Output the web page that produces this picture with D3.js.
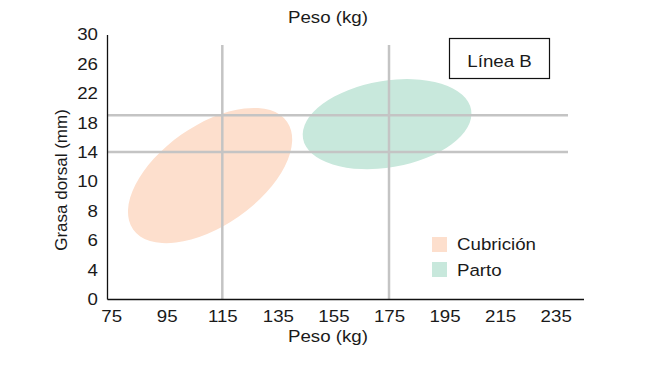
<!DOCTYPE html>
<html>
<head>
<meta charset="utf-8">
<script src="https://cdn.jsdelivr.net/npm/d3@7"></script>
<style>
  html, body { margin: 0; padding: 0; background: #fff; }
  svg { display: block; }
  text { font-family: "Liberation Sans", Arial, sans-serif; fill: #1a1a1a; }
</style>
</head>
<body>
<svg id="chart" width="650" height="366"></svg>
<script>
// ---- data ----
const xTicks = [75, 95, 115, 135, 155, 175, 195, 215, 235];
const yTicks = [0, 4, 6, 8, 10, 14, 18, 22, 26, 30];
const refWeights = [115, 175];      // vertical reference lines (kg)
const refFat = [19, 14];            // horizontal reference lines (mm)
const seriesNames = ["Cubrición", "Parto"];
// ellipse: centre (kg, mm), semi-axes (kg units), tilt (deg)
const centresKg = [110.6, 174.3];
const centresMm = [10.8, 17.8];
const semiMajorKg = [33.8, 30.7];
const semiMinorKg = [18.0, 15.6];
const tiltDeg = [35, 9.7];
const colors = ["#fddfcd", "#c8e8dc"];

const svg = d3.select("#chart");
const FS = 17, SX = 1.1;

const x = d3.scaleLinear().domain([73.5, 245]).range([107, 583.5]);
const yTop = 34.5, yBot = 299;
const y = d3.scaleLinear().domain(yTicks)
  .range(yTicks.map((d, i) => yBot - i * (yBot - yTop) / (yTicks.length - 1)));

function stretchText(sel, px, py, anchor) {
  sel.attr("transform", `translate(${px},${py}) scale(${SX},1)`)
     .attr("x", 0).attr("y", 0)
     .attr("text-anchor", anchor || "start")
     .style("font-size", FS + "px");
}

// ellipses
const kpx = x(1) - x(0);
const ell = seriesNames.map((n, i) => ({
  name: n, cx: centresKg[i], cy: centresMm[i], a: semiMajorKg[i], b: semiMinorKg[i], t: tiltDeg[i], c: colors[i]
}));
svg.append("g").selectAll("ellipse").data(ell).join("ellipse")
  .attr("transform", d => `translate(${x(d.cx)},${y(d.cy)}) rotate(${-d.t})`)
  .attr("rx", d => d.a * kpx)
  .attr("ry", d => d.b * kpx)
  .attr("fill", d => d.c);

// reference lines
const grid = svg.append("g").attr("stroke", "#c4c4c4").attr("stroke-width", 2.5);
grid.selectAll("line.v").data(refWeights).join("line").attr("class", "v")
  .attr("x1", d => x(d)).attr("x2", d => x(d))
  .attr("y1", 45).attr("y2", yBot);
grid.selectAll("line.h").data(refFat).join("line").attr("class", "h")
  .attr("x1", x.range()[0]).attr("x2", 568)
  .attr("y1", d => y(d)).attr("y2", d => y(d));

// axes
const gx = svg.append("g").attr("transform", `translate(0,${yBot})`)
  .call(d3.axisBottom(x).tickValues(xTicks).tickSize(0).tickSizeOuter(0).tickPadding(11));
const gy = svg.append("g").attr("transform", `translate(${x.range()[0]},0)`)
  .call(d3.axisLeft(y).tickValues(yTicks).tickSize(0).tickSizeOuter(0).tickPadding(9));
[gx, gy].forEach(g => {
  g.select(".domain").attr("stroke", "#111").attr("stroke-width", 1.3);
  g.selectAll(".tick text").style("font-size", FS + "px")
    .style("font-family", "Liberation Sans, Arial, sans-serif").attr("fill", "#1a1a1a");
});
gx.selectAll(".tick text").attr("transform", `scale(${SX},1)`);
gy.selectAll(".tick text").attr("x", -9 / SX).attr("transform", `scale(${SX},1)`);

// titles
svg.append("text").text("Peso (kg)").call(stretchText, 328, 23, "middle");
svg.append("text").text("Peso (kg)").call(stretchText, 328, 342, "middle");
svg.append("text").text("Grasa dorsal (mm)")
  .attr("transform", "translate(67,180) rotate(-90)")
  .attr("text-anchor", "middle").style("font-size", FS + "px");

// Línea B box
svg.append("rect").attr("x", 449.5).attr("y", 38.5).attr("width", 100).attr("height", 40)
  .attr("fill", "#fff").attr("stroke", "#111").attr("stroke-width", 1.2);
svg.append("text").text("Línea B").call(stretchText, 499.5, 67, "middle");

// legend
const lg = svg.append("g");
seriesNames.forEach((n, i) => {
  lg.append("rect").attr("x", 432).attr("y", 237 + i * 25).attr("width", 15).attr("height", 15)
    .attr("fill", colors[i]);
  lg.append("text").text(n).call(stretchText, 457, 250 + i * 25.5, "start");
});
</script>
</body>
</html>
